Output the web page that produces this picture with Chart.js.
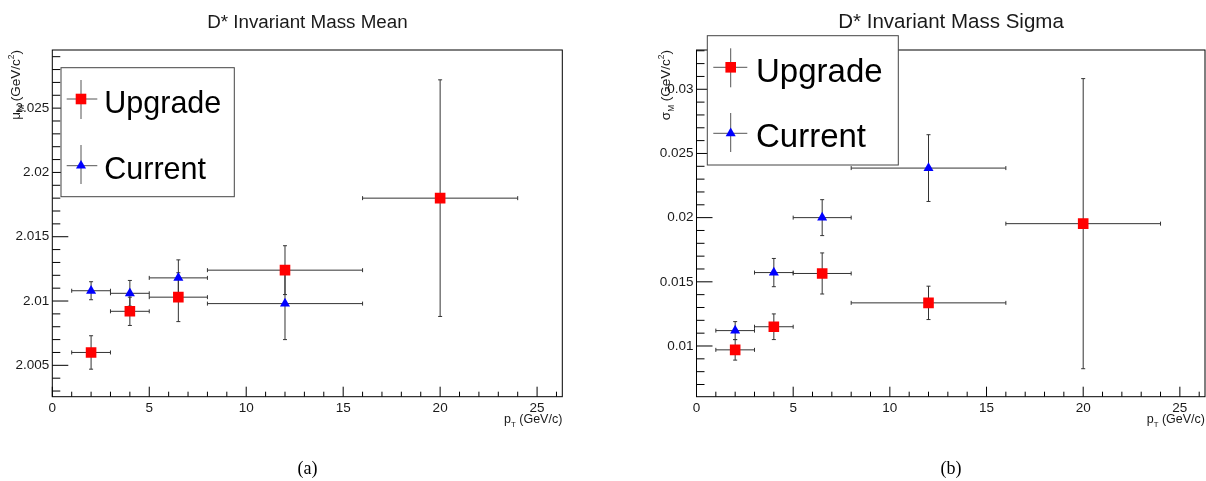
<!DOCTYPE html>
<html>
<head>
<meta charset="utf-8">
<script src="https://cdn.jsdelivr.net/npm/chart.js@4.4.1/dist/chart.umd.min.js"></script>
<style>
  html, body { margin: 0; padding: 0; background: #fff; }
  #wrap { position: relative; width: 1206px; height: 481px; overflow: hidden; }
  canvas { position: absolute; top: 0; }
  #meanChart { left: 0; }
  #sigmaChart { left: 603px; }
</style>
</head>
<body>
<div id="wrap">
  <canvas id="meanChart" width="603" height="481"></canvas>
  <canvas id="sigmaChart" width="630" height="481"></canvas>
</div>
<script>
// ==========================================
// Data
// ==========================================
const PT    = [2, 4, 6.5, 12, 20];
const PT_LO = [1, 3, 5, 8, 16];
const PT_HI = [3, 5, 8, 16, 24];

const MEAN_UPGRADE     = [2.0060, 2.0092, 2.0103, 2.0124, 2.0180];
const MEAN_UPGRADE_ERR = [0.0013, 0.0011, 0.0019, 0.0019, 0.0092];
const MEAN_CURRENT     = [2.0108, 2.0106, 2.0118, 2.0098];
const MEAN_CURRENT_ERR = [0.0007, 0.0010, 0.0014, 0.0028];

const SIGMA_UPGRADE     = [0.0097, 0.0115, 0.01565, 0.01336, 0.01953];
const SIGMA_UPGRADE_ERR = [0.0008, 0.0010, 0.0016, 0.0013, 0.0113];
const SIGMA_CURRENT     = [0.0112, 0.01572, 0.0200, 0.02386];
const SIGMA_CURRENT_ERR = [0.0007, 0.0011, 0.0014, 0.0026];

const SERIES = ['Upgrade', 'Current'];
const X_TICKS = [0, 5, 10, 15, 20, 25];
const MEAN_TICKS = [2.005, 2.01, 2.015, 2.02, 2.025];
const SIGMA_TICKS = [0.01, 0.015, 0.02, 0.025, 0.03];

// ==========================================
// Style
// ==========================================
const FONT = "'Liberation Sans', Arial, Helvetica, sans-serif";
const SERIF = "'Liberation Serif', 'Times New Roman', serif";
const RED = '#ff0000';
const BLUE = '#0000ff';
const BAR = '#333333';
const INK = '#1a1a1a';

function points(y, err) {
    return y.map((v, i) => ({
        x: PT[i], y: v,
        xMin: PT_LO[i], xMax: PT_HI[i],
        yMin: v - err[i], yMax: v + err[i]
    }));
}

function fmt(v) { return String(+v.toFixed(4)); }

// text with sub/superscripts: parts = [{t, sub}, {t, sup}]
function richWidth(ctx, parts, size) {
    let w = 0;
    parts.forEach(p => {
        const s = (p.sub || p.sup) ? size * 0.62 : size;
        ctx.font = s + 'px ' + FONT;
        w += ctx.measureText(p.t).width;
    });
    return w;
}
function drawRich(ctx, parts, x, y, size) {
    let cx = x;
    parts.forEach(p => {
        const s = (p.sub || p.sup) ? size * 0.62 : size;
        const dy = p.sub ? size * 0.3 : (p.sup ? -size * 0.45 : 0);
        ctx.font = s + 'px ' + FONT;
        ctx.fillText(p.t, cx, y + dy);
        cx += ctx.measureText(p.t).width;
    });
}

function marker(ctx, style, x, y) {
    ctx.beginPath();
    if (style === 'rect') {
        ctx.fillStyle = RED;
        ctx.rect(x - 5.3, y - 5.3, 10.6, 10.6);
    } else {
        ctx.fillStyle = BLUE;
        const r = 5.8;
        ctx.moveTo(x, y - r);
        ctx.lineTo(x + r * 0.866, y + r / 2);
        ctx.lineTo(x - r * 0.866, y + r / 2);
        ctx.closePath();
    }
    ctx.fill();
}

// ==========================================
// ROOT-like frame, error bars, legend, titles
// ==========================================
function rootPlugin(cfg) {
    return {
        id: 'rootStyle',
        beforeDatasetsDraw(chart) {
            const ctx = chart.ctx;
            const a = chart.chartArea;
            const xs = chart.scales.x, ys = chart.scales.y;
            ctx.save();
            // error bars
            ctx.strokeStyle = BAR;
            ctx.lineWidth = 1;
            chart.data.datasets.forEach(ds => {
                ds.data.forEach(p => {
                    const px = xs.getPixelForValue(p.x), py = ys.getPixelForValue(p.y);
                    const x0 = xs.getPixelForValue(p.xMin), x1 = xs.getPixelForValue(p.xMax);
                    const y0 = ys.getPixelForValue(p.yMin), y1 = ys.getPixelForValue(p.yMax);
                    ctx.beginPath();
                    ctx.moveTo(x0, py); ctx.lineTo(x1, py);
                    ctx.moveTo(x0, py - 2); ctx.lineTo(x0, py + 2);
                    ctx.moveTo(x1, py - 2); ctx.lineTo(x1, py + 2);
                    ctx.moveTo(px, y0); ctx.lineTo(px, y1);
                    ctx.moveTo(px - 2, y0); ctx.lineTo(px + 2, y0);
                    ctx.moveTo(px - 2, y1); ctx.lineTo(px + 2, y1);
                    ctx.stroke();
                });
            });
            // frame
            ctx.strokeStyle = '#000';
            ctx.strokeRect(a.left, a.top, a.right - a.left, a.bottom - a.top);
            // inner ticks
            ctx.beginPath();
            for (let v = 0; v <= xs.max; v += 1) {
                const px = xs.getPixelForValue(v);
                const len = X_TICKS.includes(v) ? 10 : 5;
                ctx.moveTo(px, a.bottom); ctx.lineTo(px, a.bottom - len);
            }
            const start = Math.ceil(ys.min / cfg.yMinor - 1e-6);
            for (let k = start; k * cfg.yMinor <= ys.max; k++) {
                const v = k * cfg.yMinor;
                const py = ys.getPixelForValue(v);
                const major = cfg.yTicks.some(t => Math.abs(t - v) < cfg.yMinor / 10);
                ctx.moveTo(a.left, py); ctx.lineTo(a.left + (major ? 16 : 8), py);
            }
            ctx.stroke();
            ctx.restore();
        },
        afterDraw(chart) {
            const ctx = chart.ctx;
            const a = chart.chartArea;
            ctx.save();
            ctx.fillStyle = INK;
            ctx.textBaseline = 'alphabetic';
            // title
            ctx.font = cfg.titleSize + 'px ' + FONT;
            ctx.textAlign = 'center';
            ctx.fillText(cfg.title, cfg.titleX, 28);
            ctx.textAlign = 'left';
            // x axis title
            const xt = [{ t: 'p' }, { t: 'T', sub: true }, { t: ' (GeV/c)' }];
            drawRich(ctx, xt, a.right - richWidth(ctx, xt, 12.5), 423, 12.5);
            // y axis title (rotated, right aligned at top)
            const yt = [{ t: cfg.yVar }, { t: 'M', sub: true }, { t: ' (GeV/c' }, { t: '2', sup: true }, { t: ')' }];
            ctx.translate(cfg.yTitleX, a.top);
            ctx.rotate(-Math.PI / 2);
            drawRich(ctx, yt, -richWidth(ctx, yt, 13.5), 0, 13.5);
            ctx.setTransform(1, 0, 0, 1, 0, 0);
            // legend
            const L = cfg.legend;
            ctx.fillStyle = '#fff';
            ctx.fillRect(L.x, L.y, L.w, L.h);
            ctx.strokeStyle = '#444';
            ctx.lineWidth = 1;
            ctx.strokeRect(L.x, L.y, L.w, L.h);
            L.rows.forEach((r, i) => {
                ctx.strokeStyle = '#555';
                ctx.beginPath();
                ctx.moveTo(L.hx[0], r.my); ctx.lineTo(L.hx[1], r.my);
                ctx.moveTo(L.mx, r.vy[0]); ctx.lineTo(L.mx, r.vy[1]);
                ctx.stroke();
                marker(ctx, i === 0 ? 'rect' : 'triangle', L.mx, r.my);
                ctx.fillStyle = '#000';
                ctx.font = L.size + 'px ' + FONT;
                ctx.fillText(SERIES[i], L.tx, r.ty);
            });
            // caption
            ctx.fillStyle = '#000';
            ctx.font = '18px ' + SERIF;
            ctx.textAlign = 'center';
            ctx.fillText(cfg.caption, cfg.titleX, 474);
            ctx.restore();
        }
    };
}

function makeChart(id, cfg) {
    const ctx = document.getElementById(id).getContext('2d');
    return new Chart(ctx, {
        type: 'scatter',
        data: {
            datasets: [
                {
                    label: SERIES[0],
                    data: points(cfg.upgrade, cfg.upgradeErr),
                    pointStyle: 'rect',
                    pointRadius: 7.5,
                    pointHoverRadius: 7.5,
                    pointBackgroundColor: RED,
                    pointBorderWidth: 0,
                    showLine: false
                },
                {
                    label: SERIES[1],
                    data: points(cfg.current, cfg.currentErr),
                    pointStyle: 'triangle',
                    pointRadius: 5.8,
                    pointHoverRadius: 5.8,
                    pointBackgroundColor: BLUE,
                    pointBorderWidth: 0,
                    showLine: false
                }
            ]
        },
        options: {
            responsive: false,
            devicePixelRatio: 1,
            animation: false,
            events: [],
            layout: { padding: { top: 50, left: 0, bottom: 0, right: cfg.padRight } },
            scales: {
                x: {
                    type: 'linear', min: 0, max: 26.3,
                    afterFit: s => { s.height = 84.3; },
                    afterBuildTicks: s => { s.ticks = X_TICKS.map(v => ({ value: v })); },
                    grid: { display: false, drawTicks: false },
                    border: { display: false },
                    ticks: { font: { family: FONT, size: 13.5 }, color: INK, padding: 3, maxRotation: 0, autoSkip: false, callback: fmt }
                },
                y: {
                    type: 'linear', min: cfg.yMin, max: cfg.yMax,
                    afterFit: s => { s.width = cfg.yWidth; },
                    afterBuildTicks: s => { s.ticks = cfg.yTicks.map(v => ({ value: v })); },
                    grid: { display: false, drawTicks: false },
                    border: { display: false },
                    ticks: { font: { family: FONT, size: 13.5 }, color: INK, padding: 3, autoSkip: false, callback: fmt }
                }
            },
            plugins: {
                legend: { display: false },
                title: { display: false },
                tooltip: { enabled: false }
            }
        },
        plugins: [rootPlugin(cfg)]
    });
}

// ==========================================
// Wire up
// ==========================================
makeChart('meanChart', {
    upgrade: MEAN_UPGRADE, upgradeErr: MEAN_UPGRADE_ERR,
    current: MEAN_CURRENT, currentErr: MEAN_CURRENT_ERR,
    yMin: 2.00256, yMax: 2.02952, yTicks: MEAN_TICKS, yMinor: 0.001,
    yWidth: 52.3, padRight: 40.7,
    title: 'D* Invariant Mass Mean', titleX: 307.4, titleSize: 18.8,
    yVar: 'μ', yTitleX: 20, caption: '(a)',
    legend: {
        x: 61, y: 67.7, w: 173.3, h: 129, size: 30.5,
        mx: 81, hx: [66.7, 97.3], tx: 104.3,
        rows: [{ my: 99, vy: [80, 119], ty: 113.3 }, { my: 165.7, vy: [145, 184], ty: 179 }]
    }
});

// right panel: canvas is wider than the page half, its frame is cut by the window edge
makeChart('sigmaChart', {
    upgrade: SIGMA_UPGRADE, upgradeErr: SIGMA_UPGRADE_ERR,
    current: SIGMA_CURRENT, currentErr: SIGMA_CURRENT_ERR,
    yMin: 0.00605, yMax: 0.03306, yTicks: SIGMA_TICKS, yMinor: 0.001,
    yWidth: 93.5, padRight: 28,
    title: 'D* Invariant Mass Sigma', titleX: 348, titleSize: 20.5,
    yVar: 'σ', yTitleX: 67, caption: '(b)',
    legend: {
        x: 104.3, y: 35.7, w: 191, h: 129.3, size: 33,
        mx: 127.7, hx: [110.3, 144.3], tx: 153,
        rows: [{ my: 67.3, vy: [48.3, 87.3], ty: 81.7 }, { my: 133.3, vy: [113, 152], ty: 147.3 }]
    }
});
</script>
</body>
</html>
